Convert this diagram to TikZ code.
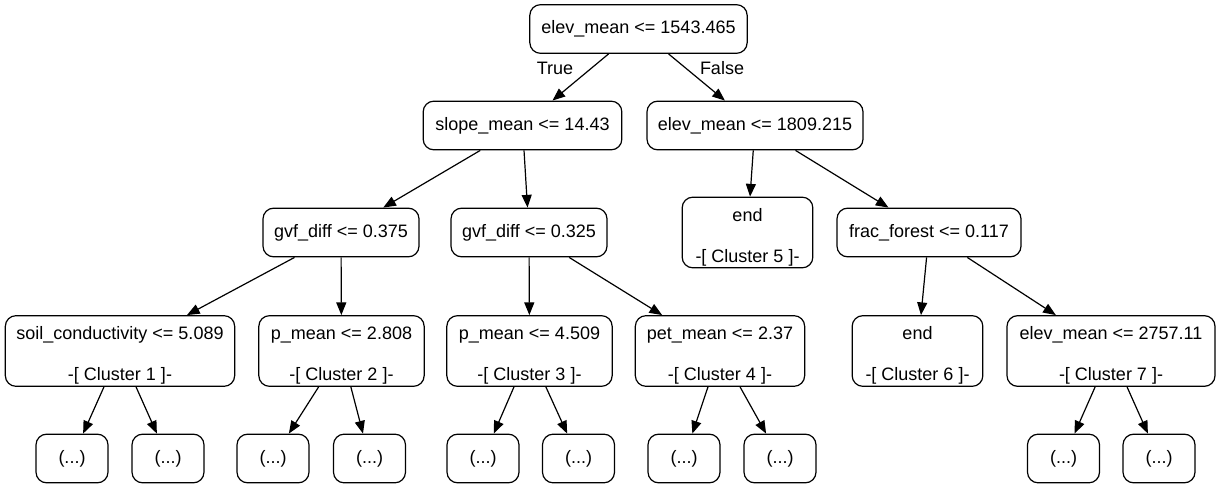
\documentclass[tikz,border=0pt]{standalone}
\usepackage{fontspec}
\setmainfont{Liberation Sans}
\usetikzlibrary{arrows.meta}
\newcommand{\toprule}{\rule{0pt}{16.5pt}}
\begin{document}
\begin{tikzpicture}[x=0.75pt,y=-0.75pt,
  box/.style={draw,line width=0.9pt,rounded corners=8pt,inner sep=0pt,align=center,
    font=\fontsize{13.5}{15.4}\selectfont},
  onebox/.style={box,minimum height=36.5pt},
  twobox/.style={box,minimum height=53pt},
  leaf/.style={box,minimum width=54pt,minimum height=36.5pt},
  edge/.style={line width=0.9pt,-{Triangle[length=9.5pt,width=7.5pt]}},
  elabel/.style={font=\fontsize{13.5}{15.4}\selectfont,inner sep=0pt}]
\useasboundingbox (0,0) rectangle (1220,488);
% level 1
\node[onebox,minimum width=163pt] (root) at (638.5,29) {elev\_mean <= 1543.465};
% level 2
\node[onebox,minimum width=149pt] (slope) at (522.5,125.5) {slope\_mean <= 14.43};
\node[onebox,minimum width=162pt] (e1809) at (755,125.5) {elev\_mean <= 1809.215};
% level 3
\node[onebox,minimum width=117pt] (g375) at (341,232.5) {gvf\_diff <= 0.375};
\node[onebox,minimum width=117pt] (g325) at (529,232.5) {gvf\_diff <= 0.325};
\node[twobox,minimum width=98pt] (end5) at (747.5,232.5) {\toprule end\\\mbox{}\\-[ Cluster 5 ]-};
\node[onebox,minimum width=138pt] (frac) at (929,232.5) {frac\_forest <= 0.117};
% level 4
\node[twobox,minimum width=172pt] (soil) at (120,351) {\toprule soil\_conductivity <= 5.089\\\mbox{}\\-[ Cluster 1 ]-};
\node[twobox,minimum width=124pt] (pm28) at (341.5,351) {\toprule p\_mean <= 2.808\\\mbox{}\\-[ Cluster 2 ]-};
\node[twobox,minimum width=124pt] (pm45) at (529.5,351) {\toprule p\_mean <= 4.509\\\mbox{}\\-[ Cluster 3 ]-};
\node[twobox,minimum width=127pt] (pet) at (720,351) {\toprule pet\_mean <= 2.37\\\mbox{}\\-[ Cluster 4 ]-};
\node[twobox,minimum width=98pt] (end6) at (917.5,351) {\toprule end\\\mbox{}\\-[ Cluster 6 ]-};
\node[twobox,minimum width=156pt] (e2757) at (1111,351) {\toprule elev\_mean <= 2757.11\\\mbox{}\\-[ Cluster 7 ]-};
% level 5
\node[leaf] (l1) at (72,458.5) {(...)};
\node[leaf] (l2) at (168,458.5) {(...)};
\node[leaf] (l3) at (273,458.5) {(...)};
\node[leaf] (l4) at (369.5,458.5) {(...)};
\node[leaf] (l5) at (483,458.5) {(...)};
\node[leaf] (l6) at (578.5,458.5) {(...)};
\node[leaf] (l7) at (684,458.5) {(...)};
\node[leaf] (l8) at (780,458.5) {(...)};
\node[leaf] (l9) at (1063.5,458.5) {(...)};
\node[leaf] (l10) at (1159,458.5) {(...)};
% edges
\draw[edge] (root) -- (slope);
\draw[edge] (root) -- (e1809);
\node[elabel] (ltrue) at (555,68) {True};
\node[elabel] (lfalse) at (722,68) {False};
\draw[edge] (slope) -- (g375);
\draw[edge] (slope) -- (g325);
\draw[edge] (e1809) -- (end5);
\draw[edge] (e1809) -- (frac);
\draw[edge] (g375) -- (soil);
\draw[edge] (g375) -- (pm28);
\draw[edge] (g325) -- (pm45);
\draw[edge] (g325) -- (pet);
\draw[edge] (frac) -- (end6);
\draw[edge] (frac) -- (e2757);
\draw[edge] (soil) -- (l1);
\draw[edge] (soil) -- (l2);
\draw[edge] (pm28) -- (l3);
\draw[edge] (pm28) -- (l4);
\draw[edge] (pm45) -- (l5);
\draw[edge] (pm45) -- (l6);
\draw[edge] (pet) -- (l7);
\draw[edge] (pet) -- (l8);
\draw[edge] (e2757) -- (l9);
\draw[edge] (e2757) -- (l10);
\end{tikzpicture}
\end{document}
